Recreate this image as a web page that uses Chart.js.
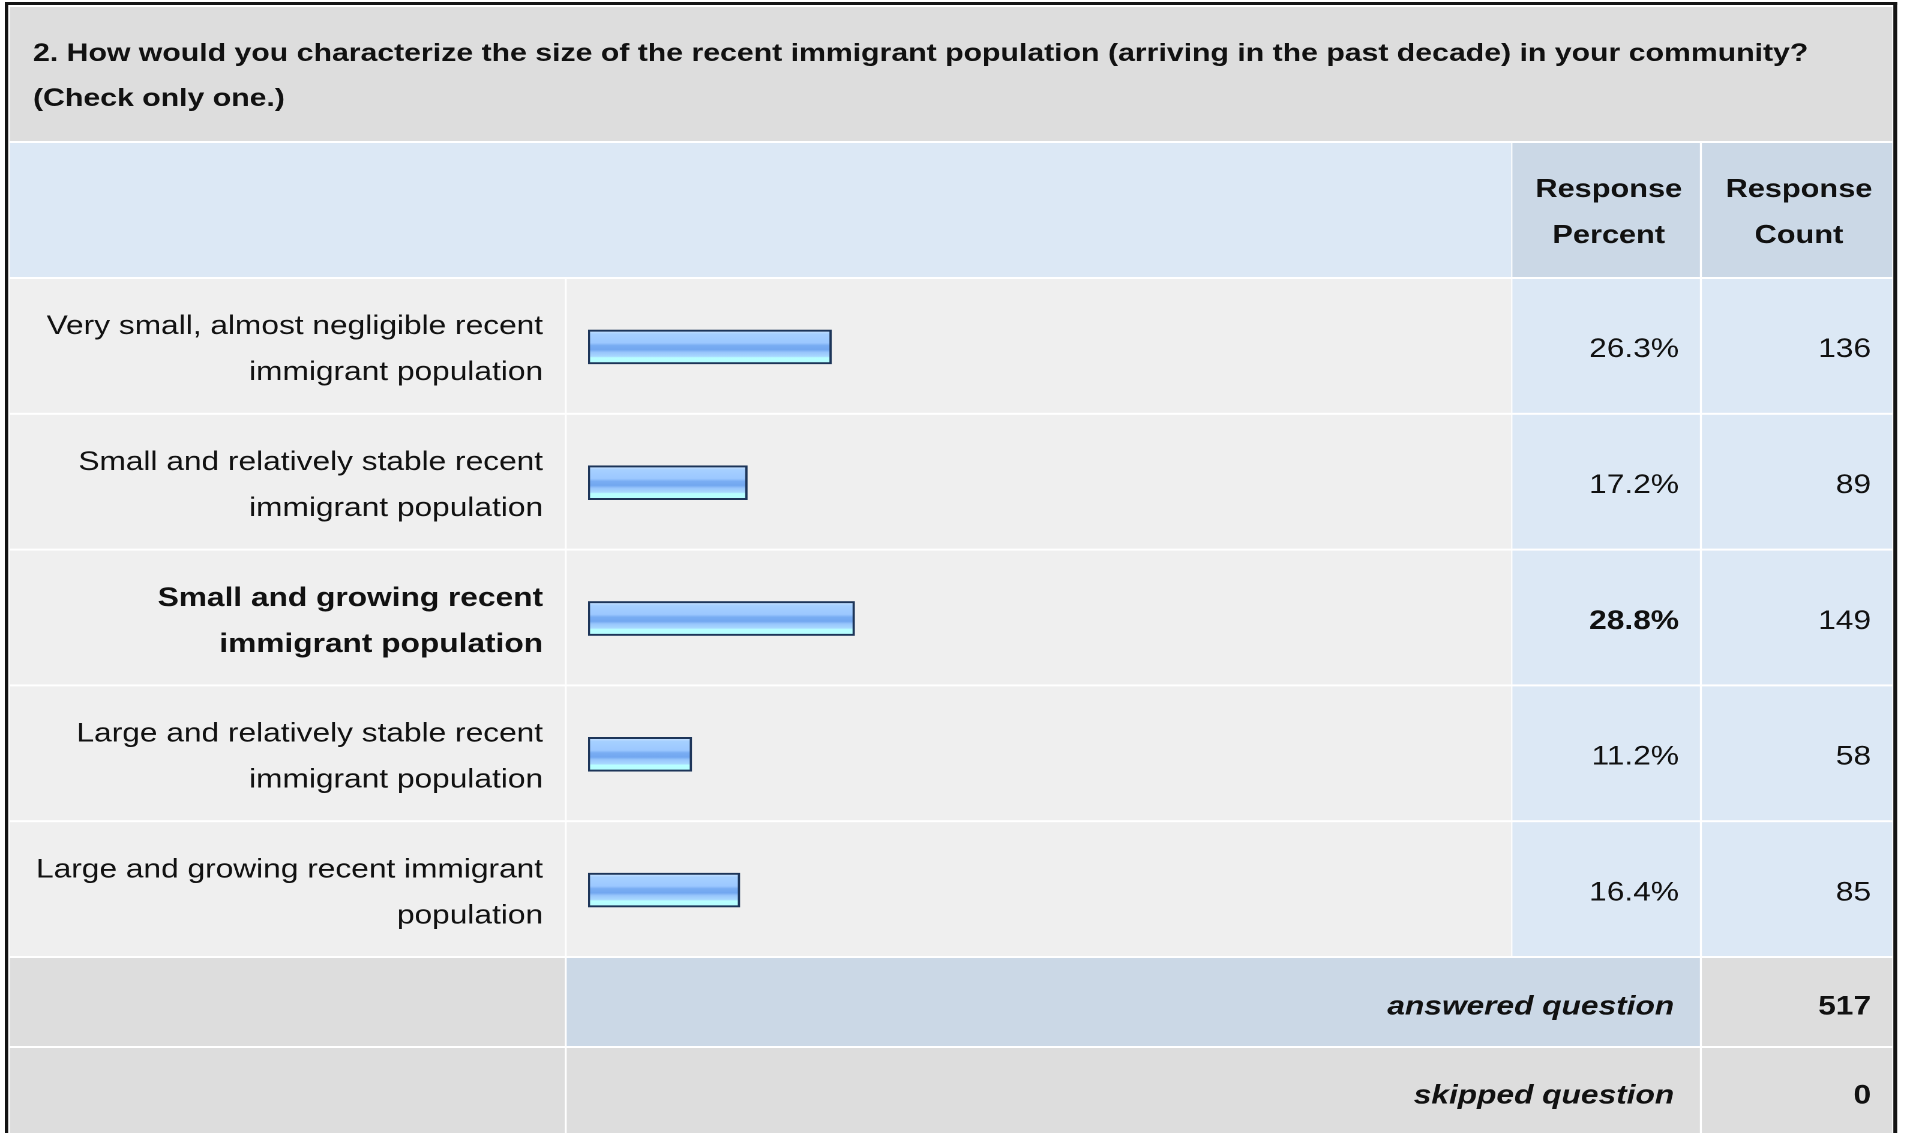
<!DOCTYPE html>
<html>
<head>
<meta charset="utf-8">
<title>Recent immigrant population</title>
<script src="https://cdn.jsdelivr.net/npm/chart.js@4.4.1/dist/chart.umd.min.js"></script>
<style>
  html, body { margin: 0; padding: 0; background: #fff; overflow: hidden; }
  #chart { display: block; }
</style>
</head>
<body>
<!-- the source screenshot is stretched sideways, so the canvas is drawn narrower and widened by its inline style -->
<canvas id="chart" width="1589" height="1133" style="width:1907px;height:1133px"></canvas>
<script>
// survey data
const question = [
  '2. How would you characterize the size of the recent immigrant population (arriving in the past decade) in your community?',
  '(Check only one.)'
];
const answers = [
  ['Very small, almost negligible recent', 'immigrant population'],
  ['Small and relatively stable recent', 'immigrant population'],
  ['Small and growing recent', 'immigrant population'],
  ['Large and relatively stable recent', 'immigrant population'],
  ['Large and growing recent immigrant', 'population']
];
const percents = [26.3, 17.2, 28.8, 11.2, 16.4];
const counts = [136, 89, 149, 58, 85];
const answered = 517;
const skipped = 0;

const topIndex = percents.indexOf(Math.max(...percents));
const FONT = "'Liberation Sans', Arial, Helvetica, sans-serif";

// column edges (canvas units)
const col = { left: 8.3, labelR: 470.6, barL: 472.2, barR: 1259.2, pctL: 1260.2, pctR: 1416.4, cntL: 1418.1, right: 1576.7 };

function barGradient(c) {
  const chart = c.chart;
  if (!chart.chartArea || c.dataIndex === undefined) return '#8ec0fa';
  const yc = chart.scales.y.getPixelForValue(c.dataIndex);
  const g = chart.ctx.createLinearGradient(0, yc - 17, 0, yc + 17);
  g.addColorStop(0, '#d6eaff');
  g.addColorStop(0.12, '#a6d0ff');
  g.addColorStop(0.38, '#9cc8ff');
  g.addColorStop(0.46, '#79adf3');
  g.addColorStop(0.58, '#72a7f0');
  g.addColorStop(0.66, '#98c6fc');
  g.addColorStop(0.78, '#a9d9ff');
  g.addColorStop(0.82, '#b8ffff');
  g.addColorStop(1, '#b6feff');
  return g;
}

const tablePlugin = {
  id: 'surveyTable',
  beforeDraw(chart) {
    const ctx = chart.ctx;
    const y = chart.scales.y;
    const H = chart.height;
    const band = y.getPixelForValue(1) - y.getPixelForValue(0);
    ctx.save();
    ctx.fillStyle = '#fff';
    ctx.fillRect(0, 0, chart.width, H);

    // frame
    ctx.fillStyle = '#141414';
    ctx.fillRect(4, 2, 2.8, H);
    ctx.fillRect(1577.6, 2, 3.2, H);
    ctx.fillRect(4, 2, 1576.8, 3);

    // title band
    ctx.fillStyle = '#dddddd';
    ctx.fillRect(col.left, 7, col.right - col.left, 134);

    // header row
    ctx.fillStyle = '#dce8f5';
    ctx.fillRect(col.left, 143, col.barR - col.left, 134);
    ctx.fillStyle = '#cbd8e6';
    ctx.fillRect(col.pctL, 143, col.pctR - col.pctL, 134);
    ctx.fillRect(col.cntL, 143, col.right - col.cntL, 134);

    // answer rows
    answers.forEach((a, i) => {
      const top = y.getPixelForValue(i) - band / 2;
      const h = band - 2;
      ctx.fillStyle = '#efefef';
      ctx.fillRect(col.left, top, col.labelR - col.left, h);
      ctx.fillRect(col.barL, top, col.barR - col.barL, h);
      ctx.fillStyle = '#dce8f5';
      ctx.fillRect(col.pctL, top, col.pctR - col.pctL, h);
      ctx.fillRect(col.cntL, top, col.right - col.cntL, h);
    });

    // footer rows
    const f1 = chart.chartArea.bottom;
    const f2 = f1 + 90;
    ctx.fillStyle = '#dddddd';
    ctx.fillRect(col.left, f1, col.labelR - col.left, 88);
    ctx.fillRect(col.cntL, f1, col.right - col.cntL, 88);
    ctx.fillRect(col.left, f2, col.labelR - col.left, H - f2);
    ctx.fillRect(col.barL, f2, col.pctR - col.barL, H - f2);
    ctx.fillRect(col.cntL, f2, col.right - col.cntL, H - f2);
    ctx.fillStyle = '#cbd8e6';
    ctx.fillRect(col.barL, f1, col.pctR - col.barL, 88);

    // texts
    ctx.fillStyle = '#111';
    ctx.textBaseline = 'middle';
    ctx.font = 'bold 25.2px ' + FONT;
    ctx.textAlign = 'left';
    ctx.fillText(question[0], 27.5, 54);
    ctx.fillText(question[1], 27.5, 99);

    ctx.font = 'bold 25.6px ' + FONT;
    ctx.textAlign = 'center';
    ctx.fillText('Response', 1340.5, 190);
    ctx.fillText('Percent', 1340.5, 236);
    ctx.fillText('Response', 1499, 190);
    ctx.fillText('Count', 1499, 236);

    ctx.textAlign = 'right';
    percents.forEach((p, i) => {
      const yc = y.getPixelForValue(i) + 3;
      ctx.font = (i === topIndex ? 'bold ' : '') + '26.4px ' + FONT;
      ctx.fillText(p.toFixed(1) + '%', 1399, yc);
      ctx.font = '26.4px ' + FONT;
      ctx.fillText(String(counts[i]), 1559, yc);
    });

    ctx.font = 'italic bold 26.4px ' + FONT;
    ctx.fillText('answered question', 1395, f1 + 49);
    ctx.fillText('skipped question', 1395, f2 + 48);
    ctx.font = 'bold 26.4px ' + FONT;
    ctx.fillText(String(answered), 1559, f1 + 49);
    ctx.fillText(String(skipped), 1559, f2 + 48);
    ctx.restore();
  }
};

new Chart(document.getElementById('chart'), {
  type: 'bar',
  data: {
    labels: answers,
    datasets: [{
      label: 'Response Percent',
      data: percents,
      backgroundColor: barGradient,
      borderColor: '#1d3559',
      borderWidth: 2,
      borderSkipped: false,
      barThickness: 34
    }]
  },
  options: {
    indexAxis: 'y',
    responsive: false,
    devicePixelRatio: 2,
    animation: false,
    events: [],
    layout: { padding: { top: 279, bottom: 175, left: 0, right: 328 } },
    plugins: {
      legend: { display: false },
      tooltip: { enabled: false },
      title: { display: false }
    },
    scales: {
      x: { display: false, min: 0, max: 100 },
      y: {
        grid: { display: false, drawTicks: false },
        border: { display: false },
        afterFit(scale) { scale.width = 490; },
        ticks: {
          color: '#111',
          padding: 37.5,
          labelOffset: 3,
          font: (c) => ({
            family: FONT,
            size: 26.4,
            weight: c.index === topIndex ? 'bold' : 'normal',
            lineHeight: '46px'
          })
        }
      }
    }
  },
  plugins: [tablePlugin]
});
</script>
</body>
</html>
